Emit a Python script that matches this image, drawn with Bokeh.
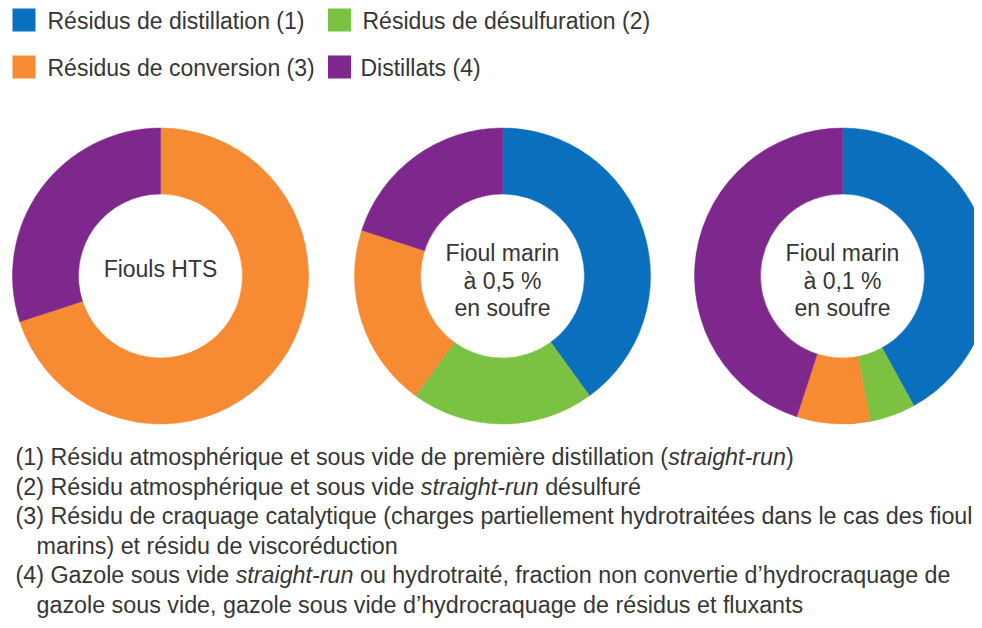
import numpy as np
from bokeh.plotting import figure
from bokeh.models import Range1d, ColumnDataSource
from bokeh.core.properties import value
from bokeh.embed import file_html
from bokeh.resources import INLINE

# ---------------- data ----------------
categories = ["Résidus de distillation (1)", "Résidus de désulfuration (2)",
              "Résidus de conversion (3)", "Distillats (4)"]
colors = ["#0a6fbd", "#7cc242", "#f68b33", "#7e288d"]

donut_labels = ["Fiouls HTS", "Fioul marin\nà 0,5 %\nen soufre", "Fioul marin\nà 0,1 %\nen soufre"]
fiouls_hts = [0, 0, 70, 30]
marin_05 = [40, 20, 20, 20]
marin_01 = [42, 5, 8, 45]
series = [fiouls_hts, marin_05, marin_01]

footnotes = [
    [("(1) Résidu atmosphérique et sous vide de première distillation (", False), ("straight-run", True), (")", False)],
    [("(2) Résidu atmosphérique et sous vide ", False), ("straight-run", True), (" désulfuré", False)],
    [("(3) Résidu de craquage catalytique (charges partiellement hydrotraitées dans le cas des fioul", False)],
    [("marins) et résidu de viscoréduction", False)],
    [("(4) Gazole sous vide ", False), ("straight-run", True), (" ou hydrotraité, fraction non convertie d’hydrocraquage de", False)],
    [("gazole sous vide, gazole sous vide d’hydrocraquage de résidus et fluxants", False)],
]
footnote_indent = [False, False, False, True, False, True]

# ---------------- layout ----------------
W, H = 974, 620
FONT = "Liberation Sans"
TXT = "#363636"
SHIFT = 9  # observed offset of rendered alphabetic baseline

p = figure(width=W, height=H, x_range=Range1d(0, W), y_range=Range1d(-H, 0),
           output_backend="svg", toolbar_location=None,
           x_axis_location=None, y_axis_location=None, min_border=0)
p.grid.visible = False
p.outline_line_color = None
p.background_fill_color = "white"
p.border_fill_color = "white"

def Y(img_y):
    return -img_y

def TY(img_baseline):
    return -(img_baseline - SHIFT)

# donuts
centers_x = [160, 502, 842]
center_y = 275.5
R_OUT, R_IN = 148, 82
wx, wy, ws, we, wc = [], [], [], [], []
for cx, vals in zip(centers_x, series):
    tot = float(sum(vals))
    cum = 0.0
    for v, c in zip(vals, colors):
        if v <= 0:
            continue
        a0 = np.pi / 2 - 2 * np.pi * cum / tot
        cum += v
        a1 = np.pi / 2 - 2 * np.pi * cum / tot
        wx.append(cx); wy.append(Y(center_y)); ws.append(a0); we.append(a1); wc.append(c)
p.annular_wedge(x="x", y="y", inner_radius=R_IN, outer_radius=R_OUT,
                inner_radius_units="screen", outer_radius_units="screen",
                start_angle="s", end_angle="e", direction="clock",
                fill_color="c", line_color="c", line_width=0.5,
                source=ColumnDataSource(dict(x=wx, y=wy, s=ws, e=we, c=wc)))

# donut center labels
lx, ly, lt = [], [], []
for cx, lab in zip(centers_x, donut_labels):
    lines = lab.split("\n")
    n = len(lines)
    if n == 1:
        base = [277]
    else:
        base = [261.5 + 27.5 * i for i in range(n)]
    for l, b in zip(lines, base):
        lx.append(cx); ly.append(TY(b)); lt.append(l)
p.text(x=lx, y=ly, text=lt, text_align="center", text_baseline="alphabetic",
       text_font=value(FONT), text_font_size="23px", text_color=TXT)

# legend
sq_x = [23.5, 339, 23.5, 339]
sq_y = [19.5, 19.5, 66.5, 66.5]
tx = [47, 362, 47, 360]
ty = [29, 29, 76.5, 76.5]
p.scatter(x=sq_x, y=[Y(v) for v in sq_y], marker="square", size=23,
          fill_color=colors, line_color=None)
p.text(x=tx, y=[TY(v) for v in ty], text=categories, text_align="left",
       text_baseline="alphabetic", text_font=value(FONT), text_font_size="23px",
       text_color=TXT)

# footnotes (segments with italic parts)
AW = {' ': 278, '(': 333, ')': 333, ',': 278, '-': 333, '.': 278, '%': 889, '’': 222, "'": 191}
for ch in '0123456789':
    AW[ch] = 556
AW.update(dict(zip('ABCDEFGHIJKLMNOPQRSTUVWXYZ',
                   [667, 667, 722, 722, 667, 611, 778, 722, 278, 500, 667, 556, 833,
                    722, 778, 667, 778, 722, 667, 611, 722, 667, 944, 667, 667, 611])))
AW.update(dict(zip('abcdefghijklmnopqrstuvwxyz',
                   [556, 556, 500, 556, 556, 278, 556, 556, 222, 222, 500, 222, 833,
                    556, 556, 556, 556, 333, 500, 278, 556, 500, 722, 500, 500, 500])))
for ch in 'éèêà':
    AW[ch] = 556

FN_SIZE = 23.3
def tw(s):
    return sum(AW.get(c, 556) for c in s) / 1000.0 * FN_SIZE

fn_base = [465.5 + 29.6 * i for i in range(len(footnotes))]
nx, ny, nt, ix, iy, it = [], [], [], [], [], []
for segs, ind, b in zip(footnotes, footnote_indent, fn_base):
    x = 36 if ind else 15
    for s, ital in segs:
        lead = len(s) - len(s.lstrip(' '))
        xs = x + tw(s[:lead])
        if ital:
            ix.append(xs); iy.append(TY(b)); it.append(s.strip())
        else:
            nx.append(xs); ny.append(TY(b)); nt.append(s.strip())
        x += tw(s)
p.text(x=nx, y=ny, text=nt, text_align="left", text_baseline="alphabetic",
       text_font=value(FONT), text_font_size=f"{FN_SIZE}px", text_color=TXT)
p.text(x=ix, y=iy, text=it, text_align="left", text_baseline="alphabetic",
       text_font=value(FONT), text_font_size=f"{FN_SIZE}px", text_font_style="italic",
       text_color=TXT)

open("out.html", "w").write(file_html(p, INLINE))
